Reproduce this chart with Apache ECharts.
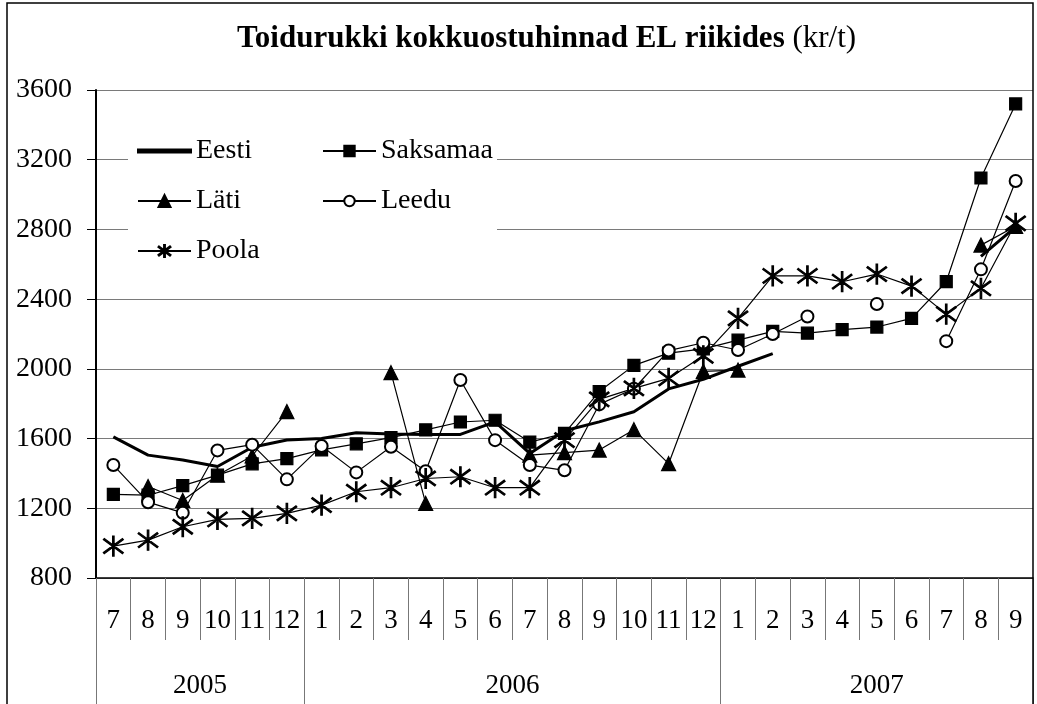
<!DOCTYPE html>
<html>
<head>
<meta charset="utf-8">
<script src="https://cdn.jsdelivr.net/npm/echarts@6/dist/echarts.min.js"></script>
<style>
  html, body { margin: 0; padding: 0; background: #fff; }
  #chart { width: 1037px; height: 704px; }
</style>
</head>
<body>
<div id="chart"></div>
<script>
// kuud (2005-7 ... 2007-9)
const months = ['7','8','9','10','11','12','1','2','3','4','5','6','7','8','9','10','11','12','1','2','3','4','5','6','7','8','9'];
const years = ['2005','2005','2005','2005','2005','2005',
    '2006','2006','2006','2006','2006','2006','2006','2006','2006','2006','2006','2006',
    '2007','2007','2007','2007','2007','2007','2007','2007','2007'];
const yTicks = [800, 1200, 1600, 2000, 2400, 2800, 3200, 3600];

// hinnad kr/t, loetud pildilt
const eesti = [1610,1505,1477,1440,1550,1592,1600,1633,1626,1624,1624,1696,1515,1645,1696,1754,1885,1940,2015,2087,null,null,null,null,null,2645,2815];
const saksamaa = [1280,1275,1330,1390,1455,1485,1535,1570,1605,1650,1695,1705,1580,1630,1870,2020,2090,2115,2165,2215,2205,2225,2240,2290,2500,3095,3520];
const lati = [null,1325,1245,1390,1500,1755,null,null,1978,1228,null,null,1505,1519,1534,1651,1456,1986,1993,null,null,null,null,null,null,2710,2818];
const leedu = [1448,1235,1174,1532,1565,1366,1557,1406,1553,1413,1936,1591,1448,1418,1796,1886,2105,2150,2108,2200,2300,null,2372,null,2159,2571,3078];
const poola = [983,1017,1094,1136,1142,1171,1218,1295,1318,1371,1381,1318,1318,1591,1825,1888,1945,2075,2290,2533,2533,2500,2544,2475,2314,2462,2835];

const yearLabelIdx = [2, 11, 22];
const yearBounds = [0, 6, 18];

const serif = 'Liberation Serif';
const star = 'path://M-0.7 -10 L0.7 -10 L0.7 10 L-0.7 10 Z ' +
    'M-8.57 -7.55 L9.43 6.45 L8.57 7.55 L-9.43 -6.45 Z ' +
    'M-9.43 6.45 L8.57 -7.55 L9.43 -6.45 L-8.57 7.55 Z';

const chartDom = document.getElementById('chart');
const myChart = echarts.init(chartDom, null, { renderer: 'canvas' });

const lineSeries = (name, data, symbol, size, width) => ({
    name: name,
    type: 'line',
    data: data,
    symbol: symbol,
    symbolSize: size,
    showAllSymbol: true,
    connectNulls: false,
    animation: false,
    lineStyle: { color: '#000', width: width },
    itemStyle: { color: '#000', borderColor: '#000', borderWidth: 1.2 },
    emphasis: { disabled: true }
});

const legendText = { fontFamily: serif, fontSize: 28, color: '#000', lineHeight: 30 };

myChart.setOption({
    backgroundColor: '#fff',
    animation: false,
    title: {
        text: '{b|Toidurukki kokkuostuhinnad EL riikides}{n| (kr/t)}',
        left: 232,
        top: 18,
        textStyle: {
            fontWeight: 'normal',
            rich: {
                b: { fontFamily: serif, fontSize: 31, fontWeight: 'bold', color: '#000' },
                n: { fontFamily: serif, fontSize: 31, fontWeight: 'normal', color: '#000' }
            }
        }
    },
    legend: [
        {
            data: [{ name: 'Eesti', icon: 'path://M0 0 L53 0 L53 3 L0 3 Z' }, 'Läti', 'Poola'],
            orient: 'vertical',
            left: 137, top: 136,
            padding: 0,
            itemWidth: 53, itemHeight: 15, itemGap: 20,
            textStyle: legendText,
            selectedMode: false
        },
        {
            data: ['Saksamaa', 'Leedu'],
            orient: 'vertical',
            left: 322, top: 136,
            padding: 0,
            itemWidth: 53, itemHeight: 13, itemGap: 20,
            textStyle: legendText,
            selectedMode: false
        }
    ],
    grid: { left: 96, right: 4, top: 90, bottom: 126, containLabel: false },
    xAxis: [
        {
            type: 'category',
            data: months,
            boundaryGap: true,
            axisLine: { lineStyle: { color: '#000', width: 1.5 } },
            axisTick: { show: true, interval: 0, length: 62, lineStyle: { color: '#777', width: 1 } },
            axisLabel: { interval: 0, margin: 29, fontFamily: serif, fontSize: 27, color: '#000' },
            splitLine: { show: false }
        },
        {
            type: 'category',
            data: years,
            position: 'bottom',
            boundaryGap: true,
            axisLine: { show: false },
            axisTick: {
                show: true, length: 130,
                interval: (i) => yearBounds.includes(i),
                lineStyle: { color: '#777', width: 1 }
            },
            axisLabel: {
                interval: (i) => yearLabelIdx.includes(i),
                margin: 94,
                fontFamily: serif, fontSize: 27, color: '#000',
                formatter: (v, i) => i === 22 ? v : '{s|' + v + '}',
                rich: { s: { padding: [0, 0, 0, 34.6], fontFamily: serif, fontSize: 27, color: '#000' } }
            },
            splitLine: { show: false }
        }
    ],
    yAxis: {
        type: 'value',
        min: yTicks[0],
        max: yTicks[yTicks.length - 1],
        interval: 400,
        axisLine: { show: true, lineStyle: { color: '#000', width: 2 } },
        axisTick: { show: true, length: 9, lineStyle: { color: '#000' } },
        axisLabel: { margin: 24, fontFamily: serif, fontSize: 28, color: '#000', formatter: (v) => String(v) },
        splitLine: { show: true, lineStyle: { color: '#7a7a7a', width: 1.2 } }
    },
    graphic: [
        {
            type: 'rect', z: 1, silent: true,
            shape: { x: 128, y: 104, width: 369, height: 170 },
            style: { fill: '#fff' }
        },
        {
            type: 'rect', z: 10, silent: true,
            shape: { x: 7, y: 3, width: 1026, height: 720 },
            style: { fill: 'none', stroke: '#000', lineWidth: 1.5 }
        }
    ],
    series: [
        lineSeries('Eesti', eesti, 'none', 0, 3),
        lineSeries('Saksamaa', saksamaa, 'rect', 12, 1.2),
        lineSeries('Läti', lati, 'triangle', 14, 1.2),
        lineSeries('Leedu', leedu, 'emptyCircle', 12, 1.2),
        lineSeries('Poola', poola, star, 20, 1.2)
    ]
});

new ResizeObserver(() => myChart.resize()).observe(chartDom);
</script>
</body>
</html>
